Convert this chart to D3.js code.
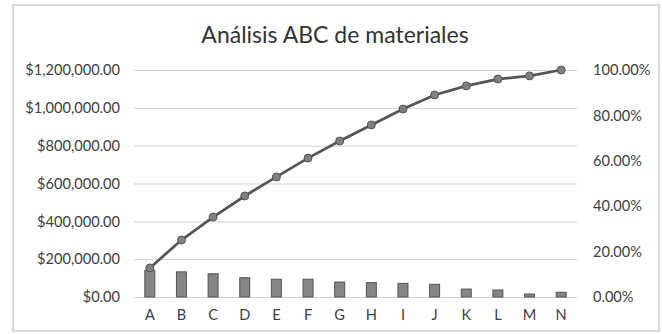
<!DOCTYPE html>
<html>
<head>
<meta charset="utf-8">
<script src="https://cdn.jsdelivr.net/npm/d3@7"></script>
<style>
body { margin: 0; background: #fff; }
text { font-family: Lato, "Noto Sans", sans-serif; }
</style>
</head>
<body>
<svg id="Chart" width="662" height="334"></svg>
<script>
// materiales y valores
var materiales = ['A','B','C','D','E','F','G','H','I','J','K','L','M','N'];
var valores = [141000, 133000, 123000, 102000, 94000, 94000, 79000, 76000, 72000, 67000, 42000, 37000, 16000, 25000];
var acumulado = [0.128, 0.251, 0.352, 0.445, 0.529, 0.612, 0.687, 0.758, 0.828, 0.890, 0.930, 0.960, 0.974, 1.0];
var ticksValor = [0, 200000, 400000, 600000, 800000, 1000000, 1200000];
var ticksPct = [0, 0.2, 0.4, 0.6, 0.8, 1.0];

var svg = d3.select("#Chart");

var plotLeft = 134, plotRight = 577, plotTop = 70, plotBottom = 297;

// marco
svg.append("rect")
	.attr("x", 13).attr("y", 5)
	.attr("width", 646).attr("height", 326)
	.attr("fill", "#fff")
	.attr("stroke", "#d9d9d9")
	.attr("stroke-width", 2);

svg.append("text")
	.attr("x", 335).attr("y", 43)
	.attr("text-anchor", "middle")
	.style("font-size", "23px")
	.style("fill", "#333")
	.text("Análisis ABC de materiales");

var x = d3.scaleBand().domain(materiales).range([plotLeft, plotRight]);
var y = d3.scaleLinear().domain([0, 1200000]).range([plotBottom, plotTop]);
var y2 = d3.scaleLinear().domain([0, 1]).range([plotBottom, plotTop]);

var fmtValor = function(d){ return "$" + d3.format(",.2f")(d); };
var fmtPct = function(d){ return d3.format(".2f")(d * 100) + "%"; };

// eje izquierdo con lineas de cuadricula
var ejeY = svg.append("g")
	.attr("transform", "translate(" + plotLeft + ",0)")
	.call(d3.axisLeft(y).tickValues(ticksValor).tickFormat(fmtValor).tickSize(0).tickPadding(14));
ejeY.select(".domain").remove();
ejeY.selectAll("text").style("font-size", "14.6px").style("fill", "#404040");
ejeY.selectAll(".tick").append("line")
	.attr("x1", 0).attr("x2", plotRight - plotLeft)
	.attr("stroke", "#d0d0d0");

// eje derecho
var ejeY2 = svg.append("g")
	.attr("transform", "translate(" + plotRight + ",0)")
	.call(d3.axisRight(y2).tickValues(ticksPct).tickFormat(fmtPct).tickSize(0).tickPadding(16));
ejeY2.select(".domain").remove();
ejeY2.selectAll("text").style("font-size", "14.6px").style("fill", "#404040");

// eje de categorias
var ejeX = svg.append("g")
	.attr("transform", "translate(0," + plotBottom + ")")
	.call(d3.axisBottom(x).tickSize(0).tickPadding(13));
ejeX.select(".domain").remove();
ejeX.selectAll("text").style("font-size", "14.6px").style("fill", "#404040");

// barras
var bw = 10;
svg.append("g").selectAll("rect")
	.data(valores)
	.enter()
	.append("rect")
	.attr("x", function(d, i){ return x(materiales[i]) + x.bandwidth() / 2 - bw / 2; })
	.attr("y", function(d){ return y(d); })
	.attr("width", bw)
	.attr("height", function(d){ return plotBottom - y(d); })
	.style("fill", "#858585")
	.style("stroke", "#555")
	.style("stroke-width", 1);

// linea de porcentaje acumulado
var linea = d3.line()
	.x(function(d, i){ return x(materiales[i]) + x.bandwidth() / 2; })
	.y(function(d){ return y2(d); });

svg.append("path")
	.datum(acumulado)
	.attr("d", linea)
	.attr("fill", "none")
	.attr("stroke", "#555")
	.attr("stroke-width", 2.75);

svg.append("g").selectAll("circle")
	.data(acumulado)
	.enter()
	.append("circle")
	.attr("cx", function(d, i){ return x(materiales[i]) + x.bandwidth() / 2; })
	.attr("cy", function(d){ return y2(d); })
	.attr("r", 4)
	.style("fill", "#808080")
	.style("stroke", "#555")
	.style("stroke-width", 1);
</script>
</body>
</html>
